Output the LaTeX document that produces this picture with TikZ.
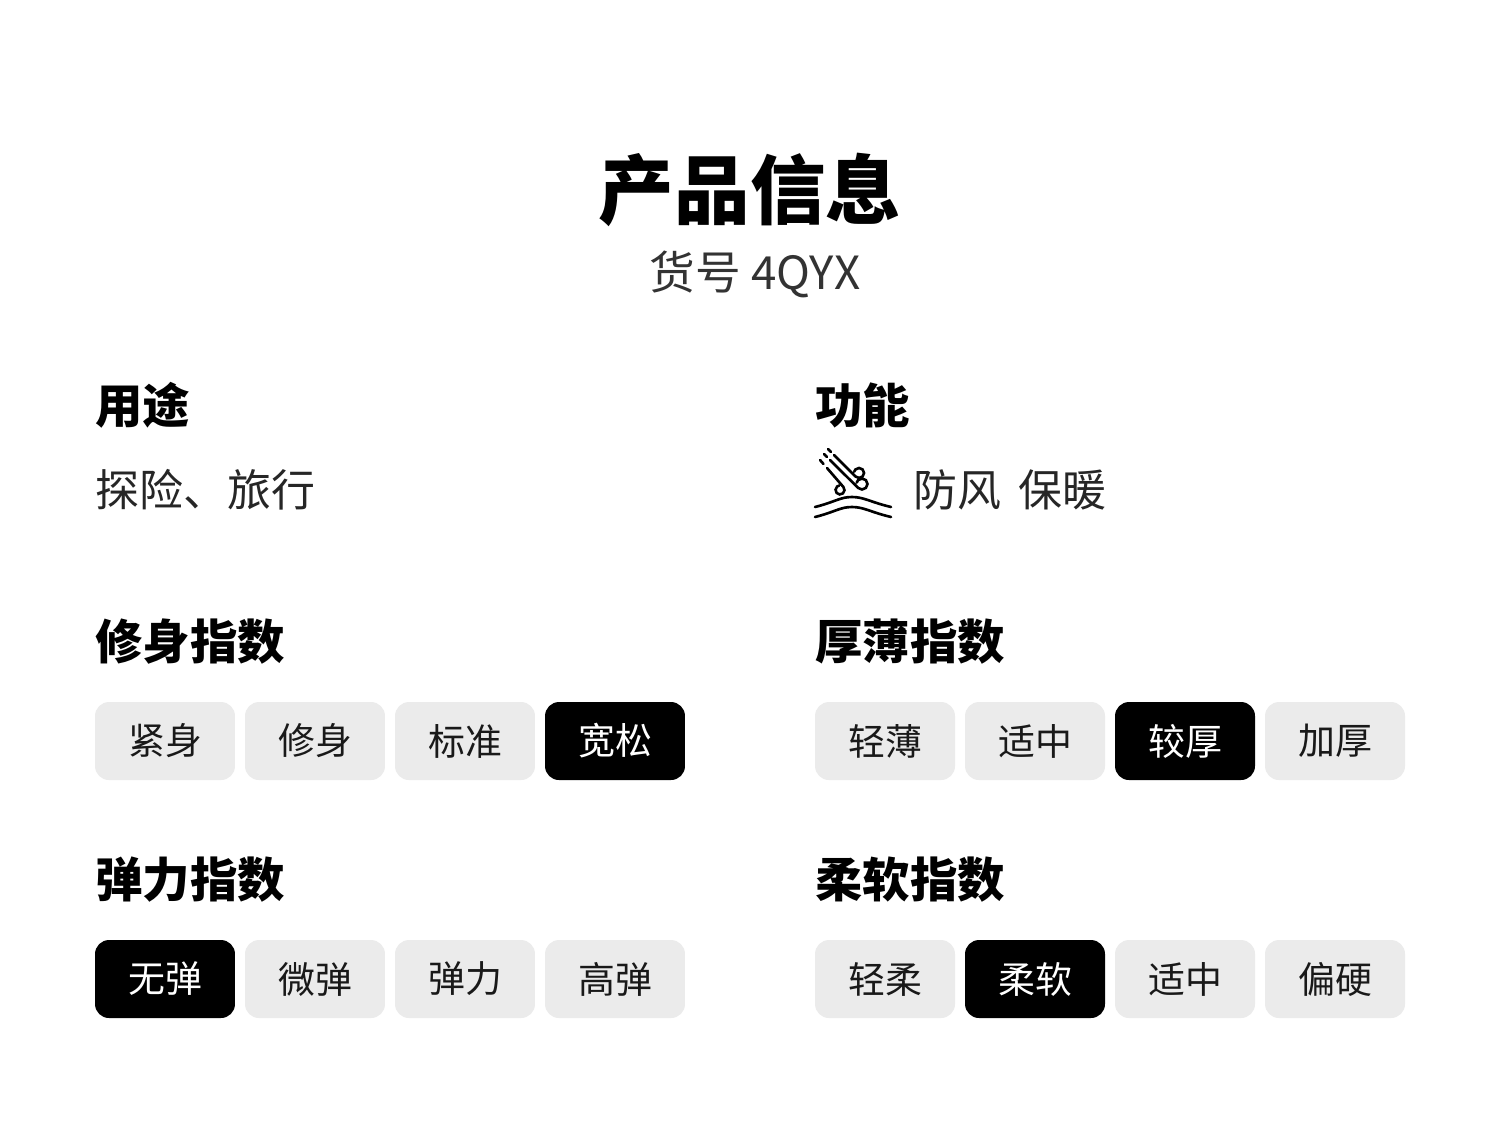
\documentclass[tikz,border=0pt]{standalone}
\usepackage{fontspec}
\setmainfont{Noto Sans CJK SC}
\usetikzlibrary{positioning}

\begin{document}
\begin{tikzpicture}[x=0.02cm,y=-0.02cm]
\tikzstyle{pill}=[rounded corners=0.28cm, minimum width=2.8cm, minimum height=1.56cm, inner sep=0pt, font=\fontsize{21}{21}\selectfont]
\tikzstyle{off}=[pill, fill=black!8, text=black!90]
\tikzstyle{on}=[pill, fill=black, text=white]
\tikzstyle{head}=[anchor=west, inner sep=0pt, font=\bfseries\fontsize{27}{27}\selectfont]
\tikzstyle{body}=[anchor=west, inner sep=0pt, text=black!85, font=\fontsize{25}{25}\selectfont]
\useasboundingbox[fill=white] (0,0) rectangle (1500,1140);
% title
\node[inner sep=0pt, font=\bfseries\fontsize{43}{43}\selectfont] (title) at (750,190) {产品信息};
\node[inner sep=0pt, text=black!80, font=\fontsize{26}{26}\selectfont] (code) at (755,274) {货号 4QYX};
% left column
\node[head] (use) at (95,405) {用途};
\node[body] (usetxt) at (95,490) {探险、旅行};
\node[head] (fit) at (95,642) {修身指数};
\node[head] (elastic) at (95,880) {弹力指数};
% right column
\node[head] (func) at (815,405) {功能};
\node[body] (functxt) at (913,490) {防风\hspace{0.4em}保暖};
\node[head] (thick) at (815,642) {厚薄指数};
\node[head] (soft) at (815,880) {柔软指数};
% wind icon
\begin{scope}[line width=1.5pt, line cap=round]
\draw (820,460) -- (823.5,464);
\draw (824,454) -- (827,457);
\draw (828,449) -- (831,452);
\draw (827,468) -- (843.4,487) arc (-41:259:4.5);
\draw (830,460) -- (858.1,487.9) arc (135:-165:5.5);
\draw (834,455) -- (855.5,476.5) arc (135:-165:5);
\draw (815,507) .. controls (835,502) and (840,497) .. (852,497) .. controls (864,497) and (870,502) .. (891,507);
\draw (815,517) .. controls (835,512) and (840,507) .. (852,507) .. controls (864,507) and (870,512) .. (891,517);
\end{scope}
% scales
\foreach \i/\txt/\sty in {1/紧身/off,2/修身/off,3/标准/off,4/宽松/on}
    \node[\sty] (fit\i) at (15+\i*150,741) {\txt};
\foreach \i/\txt/\sty in {1/轻薄/off,2/适中/off,3/较厚/on,4/加厚/off}
    \node[\sty] (thick\i) at (735+\i*150,741) {\txt};
\foreach \i/\txt/\sty in {1/无弹/on,2/微弹/off,3/弹力/off,4/高弹/off}
    \node[\sty] (elastic\i) at (15+\i*150,979) {\txt};
\foreach \i/\txt/\sty in {1/轻柔/off,2/柔软/on,3/适中/off,4/偏硬/off}
    \node[\sty] (soft\i) at (735+\i*150,979) {\txt};
\end{tikzpicture}
\end{document}
